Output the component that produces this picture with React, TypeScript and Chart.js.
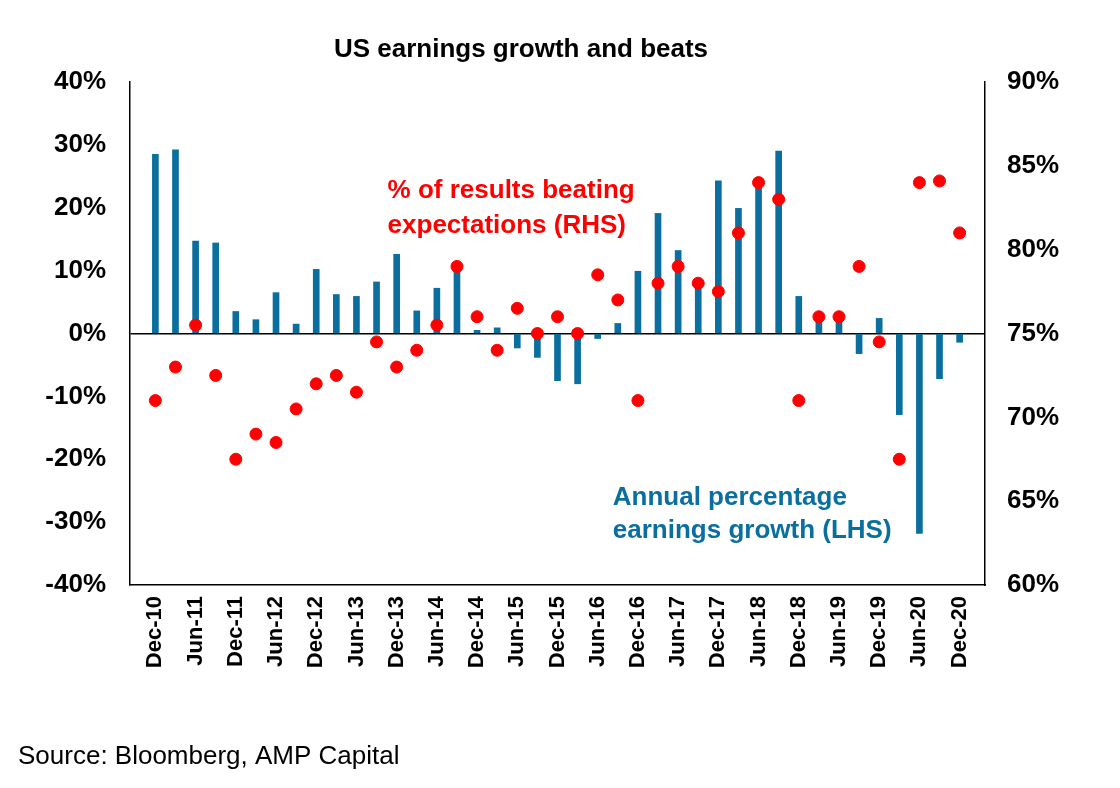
import React, { useEffect, useRef } from "react";
import { Chart, registerables } from "chart.js";
Chart.register(...registerables);

const tickLabels = ["Dec-10","Jun-11","Dec-11","Jun-12","Dec-12","Jun-13","Dec-13","Jun-14","Dec-14","Jun-15","Dec-15","Jun-16","Dec-16","Jun-17","Dec-17","Jun-18","Dec-18","Jun-19","Dec-19","Jun-20","Dec-20"];
const growth = [28.5,29.2,14.7,14.4,3.5,2.2,6.5,1.5,10.2,6.2,5.9,8.2,12.6,3.6,7.2,10.5,0.5,0.9,-2.3,-3.8,-7.5,-8,-0.8,1.6,9.9,19.1,13.2,7.5,24.3,19.9,24,29,5.9,2,1.8,-3.2,2.4,-12.9,-31.8,-7.2,-1.4];
const beats = [71,73,75.5,72.5,67.5,69,68.5,70.5,72,72.5,71.5,74.5,73,74,75.5,79,76,74,76.5,75,76,75,78.5,77,71,78,79,78,77.5,81,84,83,71,76,76,79,74.5,67.5,84,84.1,81];

const BLUE = "#0A6F9E";
const RED = "#FF0000";
const FAM = "'Liberation Sans', Arial";

export default function App() {
  const ref = useRef<HTMLCanvasElement>(null);
  useEffect(() => {
    document.body.style.margin = "0";
    const labelsPlugin = {
      id: "notes",
      afterDraw(chart: any) {
        const { ctx } = chart;
        const x = chart.scales.x, y = chart.scales.y;
        ctx.save();
        ctx.textBaseline = "middle";
        ctx.fillStyle = "#000";
        ctx.font = `bold 26px ${FAM}`;
        ctx.textAlign = "center";
        ctx.fillText("US earnings growth and beats", 521, 50);
        ctx.textAlign = "left";
        ctx.fillStyle = RED;
        ctx.fillText("% of results beating", x.getPixelForValue(11.55), y.getPixelForValue(22.7));
        ctx.fillText("expectations (RHS)", x.getPixelForValue(11.55), y.getPixelForValue(17.2));
        ctx.fillStyle = BLUE;
        ctx.fillText("Annual percentage", x.getPixelForValue(22.75), y.getPixelForValue(-26.2));
        ctx.fillText("earnings growth (LHS)", x.getPixelForValue(22.75), y.getPixelForValue(-31.4));
        ctx.fillStyle = "#000";
        ctx.font = `26px ${FAM}`;
        ctx.fillText("Source: Bloomberg, AMP Capital", 18, 757);
        ctx.restore();
      },
    };
    const tickFont = { family: FAM, size: 26, weight: "bold" as const };
    const chart = new Chart(ref.current!, {
      type: "bar",
      data: {
        datasets: [
          {
            type: "scatter" as any,
            data: beats.map((v, i) => ({ x: i, y: v })),
            yAxisID: "y2",
            backgroundColor: RED,
            borderColor: RED,
            pointRadius: 6,
            pointHoverRadius: 6,
          },
          {
            type: "bar",
            data: growth.map((v, i) => ({ x: i, y: v })),
            yAxisID: "y",
            backgroundColor: BLUE,
            barThickness: 6,
          } as any,
        ],
      },
      options: {
        animation: false,
        responsive: false,
        maintainAspectRatio: false,
        layout: { padding: { left: 0, right: 0, top: 82, bottom: 0 } },
        plugins: { legend: { display: false }, tooltip: { enabled: false } },
        scales: {
          x: {
            type: "linear",
            min: -0.25,
            max: 40.25,
            afterBuildTicks: (s: any) => {
              s.ticks = tickLabels.map((_, i) => ({ value: i * 2 }));
            },
            afterFit: (s: any) => { s.height = 203; },
            ticks: {
              autoSkip: false,
              maxRotation: 90,
              minRotation: 90,
              color: "#000",
              font: { ...tickFont, size: 22 },
              callback: (v: any) => tickLabels[Math.round(v / 2)] ?? "",
            },
            grid: { display: false },
            border: { color: "#000", width: 1.5 },
          },
          y: {
            position: "left",
            min: -40,
            max: 40,
            afterFit: (s: any) => { s.width = 130; },
            ticks: { stepSize: 10, color: "#000", font: tickFont, padding: 24, callback: (v: any) => v + "%" },
            grid: {
              drawTicks: false,
              color: (c: any) => (c.tick && c.tick.value === 0 ? "#000" : "transparent"),
              lineWidth: 1.5,
            },
            border: { color: "#000", width: 1.5 },
          },
          y2: {
            position: "right",
            min: 60,
            max: 90,
            afterFit: (s: any) => { s.width = 135; },
            ticks: { stepSize: 5, color: "#000", font: tickFont, padding: 14, callback: (v: any) => v + "%" },
            grid: { display: false },
            border: { color: "#000", width: 1.5 },
          },
        },
      },
      plugins: [labelsPlugin],
    });
    return () => chart.destroy();
  }, []);
  return (
    <div style={{ width: 1120, height: 788 }}>
      <canvas ref={ref} width={1120} height={788} style={{ width: 1120, height: 788 }} />
    </div>
  );
}
